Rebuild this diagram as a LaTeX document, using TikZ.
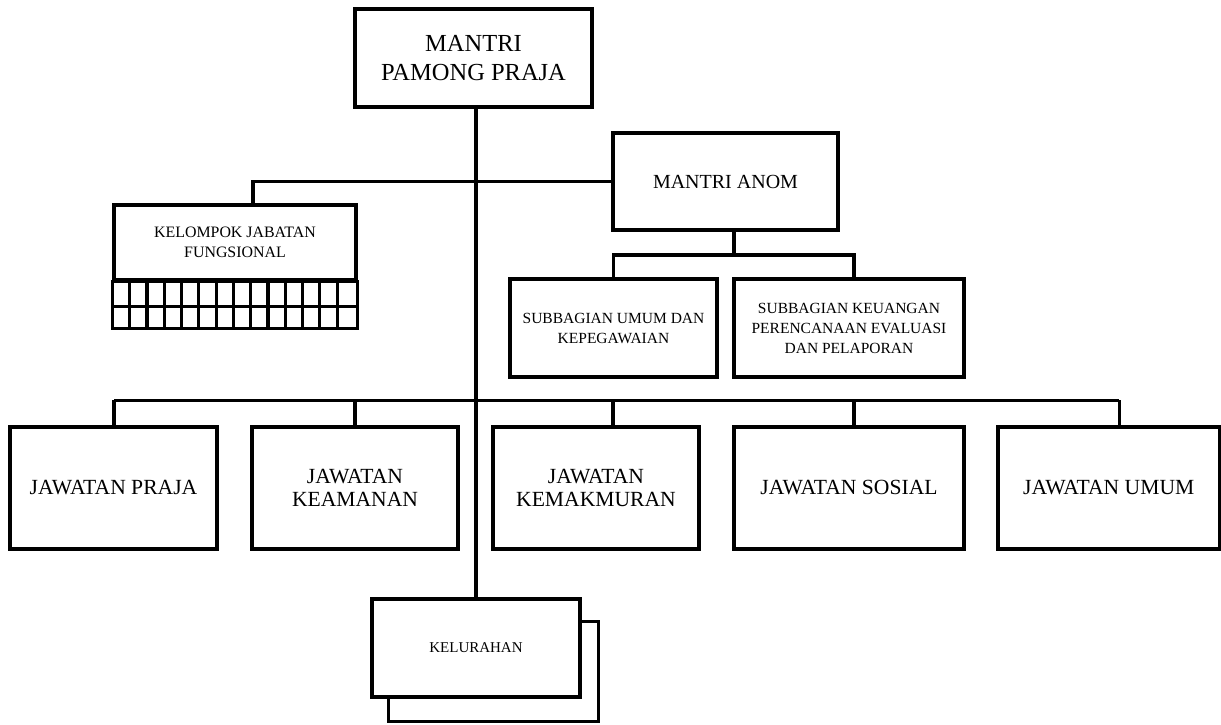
\documentclass[tikz,border=0pt]{standalone}
\usepackage{fontspec}
\setmainfont{Liberation Serif}
\usetikzlibrary{backgrounds}
\begin{document}
\begin{tikzpicture}[x=1pt,y=-1pt,line width=3.2pt,
    box/.style={draw,fill=white,inner sep=0pt,align=center,minimum height=98pt},
    big/.style={font=\fontsize{24.5}{29}\selectfont},
    mid/.style={font=\fontsize{21.6}{23.5}\selectfont},
    small/.style={font=\fontsize{15.5}{20}\selectfont}]
  \useasboundingbox (0,0) rectangle (1221,725);
  \node[box,big,minimum width=237pt] (mpp) at (473.5,58) {MANTRI\\PAMONG PRAJA};
  \node[box,font=\fontsize{20}{23}\selectfont,minimum width=225pt,minimum height=97pt] (anom) at (725.5,181.5) {MANTRI ANOM};
  \node[box,font=\fontsize{15.9}{20}\selectfont,minimum width=242pt,minimum height=75pt] (kjf) at (235,242.5) {KELOMPOK JABATAN\\FUNGSIONAL};
  \node[box,small,minimum width=207pt] (sub1) at (613.5,328) {SUBBAGIAN UMUM DAN\\KEPEGAWAIAN};
  \node[box,small,minimum width=230pt] (sub2) at (849,328) {SUBBAGIAN KEUANGAN\\PERENCANAAN EVALUASI\\DAN PELAPORAN};
  \node[box,mid,minimum width=207pt,minimum height=122pt] (jw1) at (113.5,488) {JAWATAN PRAJA};
  \node[box,mid,minimum width=206pt,minimum height=122pt] (jw2) at (355,488) {JAWATAN\\KEAMANAN};
  \node[box,mid,minimum width=206pt,minimum height=122pt] (jw3) at (596,488) {JAWATAN\\KEMAKMURAN};
  \node[box,mid,minimum width=230pt,minimum height=122pt] (jw4) at (849,488) {JAWATAN SOSIAL};
  \node[box,mid,minimum width=221.5pt,minimum height=122pt] (jw5) at (1108.75,488) {JAWATAN UMUM};
  \node[box,font=\fontsize{15}{18}\selectfont,minimum width=208pt] (kel) at (476,648) {KELURAHAN};
  \coordinate (subbus) at (734,255);
  % grid under the functional group
  \draw (kjf.south west) rectangle ([shift={(0,47)}]kjf.south east);
  \draw ([shift={(0,25)}]kjf.south west) -- ([shift={(0,25)}]kjf.south east);
  \foreach \i in {1,...,13}
    \draw ([shift={(\i*242/14,0)}]kjf.south west) -- ++(0,47);
  % second kelurahan sheet
  \begin{scope}[on background layer]
    \draw[line width=3.2pt] ([shift={(18,24)}]kel.north west) rectangle ([shift={(17,23)}]kel.south east);
  \end{scope}
  % connectors
  \draw (mpp.south -| kel.north) -- (kel.north);
  \draw (anom.west) -| ([shift={(18,0)}]kjf.north);
  \draw (anom.south -| subbus) -- (subbus);
  \draw (sub1.north) |- (subbus) -| ([shift={(5,0)}]sub2.north);
  \draw ([shift={(0.5,-25)}]jw1.north) -- ([shift={(10.5,-25)}]jw5.north);
  \foreach \n/\dx in {jw1/0.5, jw2/0, jw3/17, jw4/5, jw5/10.5}
    \draw ([shift={(\dx,0)}]\n.north) -- ++(0,-25);
\end{tikzpicture}
\end{document}
